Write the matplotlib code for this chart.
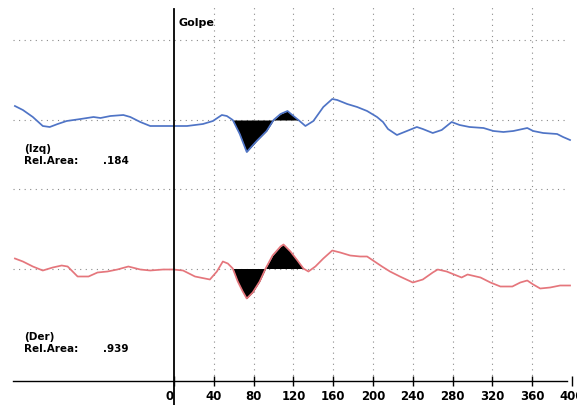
import matplotlib
matplotlib.use('Agg')
from matplotlib import pyplot as plt

# time axis ticks (ms)
ticks = [0, 40, 80, 120, 160, 200, 240, 280, 320, 360, 400]

# Izq channel (blue)
izq_t = [-160, -152, -142, -132, -125, -117, -108, -94, -81, -74, -64, -51, -44, -34,
         -24, -11, -1, 13, 21, 29, 39, 48, 53, 59, 66, 73, 83, 93, 100, 107, 114, 120,
         125, 132, 140, 150, 159, 164, 174, 184, 194, 204, 210, 215, 224, 234, 244, 250,
         260, 269, 279, 287, 297, 311, 321, 331, 341, 355, 361, 371, 385, 391, 398]
izq_v = [14, 10, 3, -6, -7, -4, -1, 1, 3, 2, 4, 5, 3, -2,
         -6, -6, -6, -6, -5, -4, -1, 5, 4, 0, -14, -32, -21, -11, 0, 6, 9, 4,
         0, -6, -1, 13, 21, 20, 16, 13, 9, 3, -2, -9, -15, -11, -7, -9,
         -13, -10, -2, -5, -7, -8, -11, -12, -11, -8, -11, -13, -14, -17, -20]
izq_area = '.184'

# Der channel (red)
der_t = [-160, -152, -142, -132, -122, -113, -107, -102, -97, -86, -77, -67, -57, -46,
         -34, -24, -11, -1, 9, 21, 26, 36, 43, 49, 54, 59, 64, 69, 73, 79, 86, 92,
         99, 107, 110, 117, 124, 130, 135, 142, 150, 159, 167, 177, 187, 194, 200, 209,
         217, 227, 240, 250, 260, 265, 274, 284, 289, 295, 308, 318, 328, 340, 348, 355,
         361, 368, 378, 388, 398]
der_v = [10, 7, 2, -2, 1, 3, 2, -3, -8, -8, -4, -3, -1, 2,
         -1, -2, -1, -1, -2, -8, -9, -11, -3, 7, 5, 0, -13, -23, -30, -24, -13, 0,
         13, 22, 24, 17, 8, 0, -3, 2, 10, 18, 16, 13, 12, 12, 8, 2,
         -3, -8, -14, -11, -4, -1, -3, -7, -9, -6, -9, -14, -18, -18, -14, -12,
         -16, -20, -19, -17, -17]
der_area = '.939'

# shaded response window (ms)
win_izq = (59, 125)
win_der = (59, 130)

izq_off = 148.5
der_off = 0.0

fig = plt.figure(figsize=(5.77, 4.06), dpi=100)
ax = fig.add_axes([0, 0, 1, 1])
ax.set_xlim(-175, 405)
ax.set_ylim(-136.5, 269.5)

dot = (0, (1, 4))
for y in [izq_off + 80, izq_off, der_off + 80, der_off]:
    ax.plot([-162, 395], [y, y], c='#8a8a8a', lw=0.8, ls=dot, zorder=1)
for t in ticks[1:-1]:
    ax.plot([t, t], [-112.5, 262], c='#8a8a8a', lw=0.8, ls=dot, zorder=1)

ax.plot([0, 0], [-140, 260], c='black', lw=1.3, zorder=4)
ax.text(4, 247, 'Golpe', fontsize=8, fontweight='bold', va='center', ha='left')


def draw(t, v, off, win, color):
    y = [a + off for a in v]
    ax.plot(t, y, c=color, lw=1.25, zorder=3)
    where = [win[0] <= a <= win[1] for a in t]
    ax.fill_between(t, y, off, where=where, color='black', zorder=2, lw=0)


draw(izq_t, izq_v, izq_off, win_izq, '#4f74c6')
draw(der_t, der_v, der_off, win_der, '#e5767c')

for lbl, area, yy in [('(Izq)', izq_area, 121), ('(Der)', der_area, -68)]:
    ax.text(-151, yy, lbl, fontsize=7.5, fontweight='bold', va='center')
    ax.text(-151, yy - 12, 'Rel.Area:', fontsize=7.5, fontweight='bold', va='center')
    ax.text(-71, yy - 12, area, fontsize=7.5, fontweight='bold', va='center')

for s in ['top', 'right', 'left']:
    ax.spines[s].set_visible(False)
ax.spines['bottom'].set_position(('data', -112.5))
ax.spines['bottom'].set_bounds(-162, 395)
ax.spines['bottom'].set_linewidth(1.0)
ax.set_yticks([])
ax.set_xticks(ticks)
ax.set_xticklabels([str(t) for t in ticks])
ax.tick_params(axis='x', direction='inout', length=7, width=1.0, labelsize=8.5, pad=2)
for lab in ax.get_xticklabels():
    lab.set_fontweight('bold')
ax.get_xticklabels()[0].set_ha('right')

fig.savefig('out.png', dpi=100)
